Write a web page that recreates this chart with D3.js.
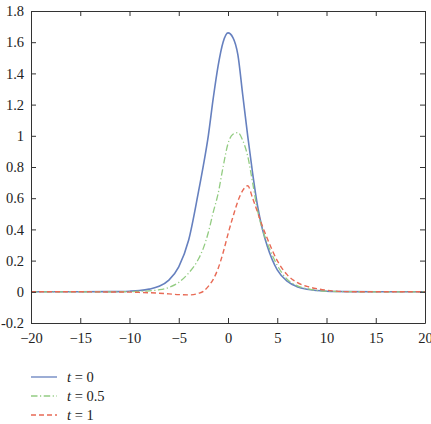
<!DOCTYPE html>
<html>
<head>
<meta charset="utf-8">
<script src="https://cdn.jsdelivr.net/npm/d3@7"></script>
<style>
body { margin: 0; background: #fff; }
svg text { font-family: 'Liberation Serif', 'DejaVu Serif', 'Times New Roman', serif !important; }
</style>
</head>
<body>
<div id="chart"></div>
<script>
chart_width = 431;
chart_height = 424;

// sample positions shared by all three curves
x_values = [-20, -15, -12, -10, -9, -8, -7, -6, -5, -4, -3, -2.5, -2, -1.5, -1, -0.5, 0, 0.5, 1, 1.5, 2, 2.5, 3, 3.5, 4, 5, 6, 7, 8, 9, 10, 11, 12, 15, 20];

t0_values = [0, 0, 0.001, 0.004, 0.008, 0.017, 0.035, 0.075, 0.16, 0.33, 0.64, 0.81, 1.0, 1.24, 1.45, 1.6, 1.66, 1.63, 1.52, 1.26, 1.0, 0.76, 0.55, 0.4, 0.29, 0.14, 0.068, 0.033, 0.016, 0.008, 0.004, 0.002, 0.001, 0, 0];

t05_values = [0, 0, 0, 0.001, 0.003, 0.006, 0.013, 0.028, 0.06, 0.12, 0.21, 0.28, 0.38, 0.51, 0.63, 0.8, 0.95, 1.01, 1.02, 0.97, 0.87, 0.7, 0.52, 0.4, 0.31, 0.17, 0.08, 0.04, 0.02, 0.009, 0.004, 0.002, 0.001, 0, 0];

t1_values = [0, 0, -0.001, -0.002, -0.004, -0.006, -0.009, -0.013, -0.018, -0.02, -0.01, 0.003, 0.035, 0.08, 0.15, 0.25, 0.37, 0.48, 0.58, 0.65, 0.68, 0.6, 0.51, 0.42, 0.34, 0.2, 0.11, 0.06, 0.035, 0.02, 0.01, 0.004, 0.001, 0, 0];

series_labels = ['0', '0.5', '1'];

x_ticks = [-20, -15, -10, -5, 0, 5, 10, 15, 20];
y_ticks = [-0.2, 0, 0.2, 0.4, 0.6, 0.8, 1, 1.2, 1.4, 1.6, 1.8];

series = [
	{ label: series_labels[0], values: t0_values, color: '#6680bf', dash: null, width: 1.6 },
	{ label: series_labels[1], values: t05_values, color: '#93cc82', dash: '6.5,2.5,1.2,2.5', width: 1.3 },
	{ label: series_labels[2], values: t1_values, color: '#e86a55', dash: '5,3', width: 1.4 }
];

plot = { left: 31, right: 425, top: 11, bottom: 323 };

x_scale = d3.scaleLinear()
	.domain([-20, 20])
	.range([plot.left, plot.right]);

y_scale = d3.scaleLinear()
	.domain([-0.2, 1.8])
	.range([plot.bottom, plot.top]);

svg = d3.select('#chart')
	.append('svg')
	.attr('width', chart_width)
	.attr('height', chart_height);

svg.append('clipPath').attr('id', 'plot-clip')
	.append('rect')
	.attr('x', plot.left)
	.attr('y', plot.top)
	.attr('width', plot.right - plot.left)
	.attr('height', plot.bottom - plot.top);

line = d3.line()
	.x((d) => x_scale(d[0]))
	.y((d) => y_scale(d[1]))
	.curve(d3.curveMonotoneX);

svg.append('g')
	.attr('clip-path', 'url(#plot-clip)')
	.selectAll('path')
	.data(series)
	.enter()
	.append('path')
	.attr('d', (s) => line(x_values.map((x, i) => [x, s.values[i]])))
	.attr('fill', 'none')
	.attr('stroke', (s) => s.color)
	.attr('stroke-width', (s) => s.width)
	.attr('stroke-dasharray', (s) => s.dash);

// axes with inward ticks on all four sides
fmt_x = (d) => d < 0 ? '\u2212' + Math.abs(d) : String(d);
fmt_y = (d) => String(+d.toFixed(1));

style_labels = (g) => g
	.attr('font-size', 14.5)
	.selectAll('text').attr('fill', '#222');

svg.append('g')
	.attr('transform', 'translate(0,' + plot.bottom + ')')
	.call(d3.axisBottom(x_scale).tickValues(x_ticks).tickSizeInner(-5).tickSizeOuter(0).tickPadding(10).tickFormat(fmt_x))
	.call(style_labels);

svg.append('g')
	.attr('transform', 'translate(0,' + plot.top + ')')
	.call(d3.axisTop(x_scale).tickValues(x_ticks).tickSizeInner(-5).tickSizeOuter(0).tickFormat(''));

svg.append('g')
	.attr('transform', 'translate(' + plot.left + ',0)')
	.call(d3.axisLeft(y_scale).tickValues(y_ticks).tickSizeInner(-5).tickSizeOuter(0).tickPadding(7).tickFormat(fmt_y))
	.call(style_labels);

svg.append('g')
	.attr('transform', 'translate(' + plot.right + ',0)')
	.call(d3.axisRight(y_scale).tickValues(y_ticks).tickSizeInner(-5).tickSizeOuter(0).tickFormat(''));

svg.selectAll('.domain, .tick line')
	.attr('stroke', '#333')
	.attr('stroke-width', 1);

// legend
legend_rows = svg.append('g')
	.attr('font-size', 14.5)
	.selectAll('g')
	.data(series)
	.enter()
	.append('g')
	.attr('transform', (s, i) => 'translate(31,' + (377 + i * 19) + ')');

legend_rows.append('line')
	.attr('x1', 0)
	.attr('x2', 26)
	.attr('stroke', (s) => s.color)
	.attr('stroke-width', 1.3)
	.attr('stroke-dasharray', (s) => s.dash);

legend_texts = legend_rows.append('text')
	.attr('x', 36)
	.attr('y', 5)
	.attr('fill', '#222');

legend_texts.append('tspan').attr('font-style', 'italic').text('t');
legend_texts.append('tspan').text((s) => ' = ' + s.label);
</script>
</body>
</html>
